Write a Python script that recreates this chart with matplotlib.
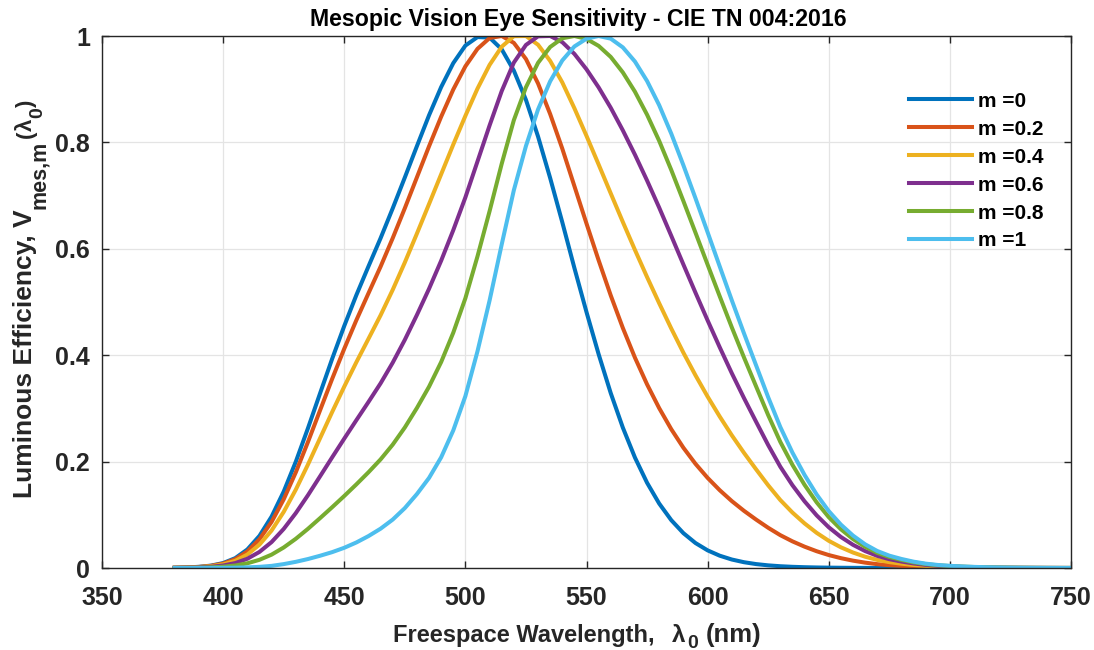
import matplotlib
matplotlib.use("Agg")
import matplotlib.pyplot as plt
import numpy as np

# Wavelength grid (nm)
wavelength = np.arange(380, 755, 5)

# m = 0 : scotopic luminous efficiency V'(lambda)
v_m00 = [0.000589, 0.001108, 0.002209, 0.00453, 0.00929, 0.01852, 0.03484, 0.0604,
         0.0966, 0.1436, 0.1998, 0.2625, 0.3281, 0.3931, 0.455, 0.513, 0.567, 0.620,
         0.676, 0.734, 0.793, 0.851, 0.904, 0.949, 0.982, 0.998, 0.997, 0.975, 0.935,
         0.880, 0.811, 0.733, 0.650, 0.564, 0.481, 0.402, 0.3288, 0.2639, 0.2076,
         0.1602, 0.1212, 0.0899, 0.0655, 0.0469, 0.03315, 0.02312, 0.01593, 0.01088,
         0.00737, 0.00497, 0.003335, 0.002235, 0.001497, 0.001005, 0.000677, 0.000459,
         0.000313, 0.000215, 0.000148, 0.000103, 0.0000715, 0.0000501, 0.0000353,
         0.000025, 0.0000178, 0.0000127, 0.0000091, 0.0000066, 0.0000048, 0.0000035,
         0.0000025, 0.0000019, 0.0000014, 0.000001, 0.0000008]

# m = 0.2
v_m02 = [0.000531, 0.000997, 0.00199, 0.00407, 0.00833, 0.01658, 0.03118, 0.05408,
         0.0866, 0.12904, 0.17986, 0.23665, 0.29622, 0.35541, 0.41215, 0.46583, 0.51641,
         0.56652, 0.61999, 0.67625, 0.73446, 0.79264, 0.84826, 0.89941, 0.94297, 0.97586,
         0.9962, 1.0, 0.9871, 0.95676, 0.91079, 0.85331, 0.78834, 0.71787, 0.64747,
         0.5785, 0.51244, 0.45121, 0.39536, 0.34518, 0.30051, 0.26082, 0.22602, 0.19574,
         0.16937, 0.14623, 0.1257, 0.10751, 0.09105, 0.07561, 0.06174, 0.05011, 0.04014,
         0.03154, 0.02433, 0.01851, 0.01381, 0.01008, 0.00723, 0.00524, 0.00383, 0.00269,
         0.00185, 0.00129, 0.000926, 0.000661, 0.000472, 0.000335, 0.000236, 0.000167,
         0.000117, 0.0000818, 0.0000564, 0.0000391, 0.0000273]

# m = 0.4
v_m04 = [0.000437, 0.000817, 0.00162, 0.00332, 0.00678, 0.01345, 0.0253, 0.0439,
         0.07046, 0.10538, 0.14731, 0.19429, 0.24377, 0.29313, 0.34094, 0.38684, 0.43085,
         0.47505, 0.52288, 0.57428, 0.62866, 0.68415, 0.74009, 0.79597, 0.84987, 0.90111,
         0.94569, 0.97986, 0.99964, 1.0, 0.98355, 0.95319, 0.9128, 0.86421, 0.81222,
         0.75854, 0.70422, 0.65039, 0.59784, 0.54688, 0.49771, 0.45008, 0.4047, 0.36212,
         0.32212, 0.28462, 0.24933, 0.2165, 0.18552, 0.15543, 0.12777, 0.10427, 0.08387,
         0.06611, 0.05111, 0.03894, 0.02909, 0.02125, 0.01525, 0.01105, 0.0081, 0.00568,
         0.00391, 0.00273, 0.00195, 0.0014, 0.000995, 0.000707, 0.000498, 0.000352,
         0.000248, 0.000172, 0.000118, 0.0000814, 0.0000568]

# m = 0.6
v_m06 = [0.000307, 0.000572, 0.00113, 0.00231, 0.0047, 0.00925, 0.01741, 0.03024,
         0.04874, 0.07341, 0.10317, 0.13669, 0.17224, 0.20796, 0.2432, 0.27788, 0.31208,
         0.34715, 0.38592, 0.42888, 0.47573, 0.52485, 0.57761, 0.63503, 0.69659, 0.76425,
         0.83196, 0.89647, 0.95, 0.98316, 0.9994, 1.0, 0.98848, 0.96636, 0.93738,
         0.90345, 0.86512, 0.82261, 0.77691, 0.72832, 0.67745, 0.62432, 0.57048, 0.51739,
         0.46533, 0.41483, 0.36595, 0.31952, 0.27496, 0.23107, 0.1904, 0.15567, 0.1254,
         0.09894, 0.07656, 0.05836, 0.04361, 0.03187, 0.02287, 0.01658, 0.01215, 0.00852,
         0.00587, 0.00409, 0.00293, 0.00209, 0.00149, 0.00106, 0.000748, 0.000529,
         0.000371, 0.000257, 0.000178, 0.000123, 0.0000855]

# m = 0.8
v_m08 = [0.000166, 0.000304, 0.0006, 0.0012, 0.00243, 0.0047, 0.00885, 0.01541,
         0.02511, 0.03853, 0.0549, 0.07356, 0.09368, 0.11424, 0.13535, 0.15721, 0.17995,
         0.20416, 0.23188, 0.2641, 0.30082, 0.34076, 0.3871, 0.44225, 0.50704, 0.58578,
         0.67091, 0.75982, 0.84168, 0.90362, 0.94959, 0.97932, 0.99573, 1.0, 0.99456,
         0.98145, 0.96066, 0.93157, 0.89529, 0.85208, 0.80289, 0.74802, 0.6897, 0.63017,
         0.57012, 0.51063, 0.45213, 0.39589, 0.34142, 0.28738, 0.23707, 0.19402, 0.1564,
         0.12347, 0.09557, 0.07287, 0.05447, 0.0398, 0.02857, 0.02071, 0.01518, 0.01064,
         0.00733, 0.00511, 0.00366, 0.00262, 0.00187, 0.00132, 0.000935, 0.00066,
         0.000464, 0.000322, 0.000222, 0.000153, 0.000107]

# m = 1 : photopic luminous efficiency V(lambda)
v_m10 = [0.000039, 0.000064, 0.00012, 0.000217, 0.000396, 0.00064, 0.00121, 0.00218,
         0.004, 0.0073, 0.0116, 0.01684, 0.023, 0.0298, 0.038, 0.048, 0.06, 0.0739,
         0.09098, 0.1126, 0.13902, 0.1693, 0.20802, 0.2586, 0.323, 0.4073, 0.503, 0.6082,
         0.71, 0.7932, 0.862, 0.91485, 0.954, 0.9803, 0.99495, 1.0, 0.995, 0.9786, 0.952,
         0.9154, 0.87, 0.8163, 0.757, 0.6949, 0.631, 0.5668, 0.503, 0.4412, 0.381, 0.321,
         0.265, 0.217, 0.175, 0.1382, 0.107, 0.0816, 0.061, 0.04458, 0.032, 0.0232, 0.017,
         0.01192, 0.00821, 0.005723, 0.004102, 0.002929, 0.002091, 0.001484, 0.001047,
         0.00074, 0.00052, 0.000361, 0.000249, 0.000172, 0.00012]

series_labels = ["m =0", "m =0.2", "m =0.4", "m =0.6", "m =0.8", "m =1"]
series = [v_m00, v_m02, v_m04, v_m06, v_m08, v_m10]
colors = ["#0072BD", "#D95319", "#EDB120", "#7E2F8E", "#77AC30", "#4DBEEE"]

x_ticks = [350, 400, 450, 500, 550, 600, 650, 700, 750]
y_ticks = [0, 0.2, 0.4, 0.6, 0.8, 1]
y_tick_labels = ["0", "0.2", "0.4", "0.6", "0.8", "1"]

title_text = "Mesopic Vision Eye Sensitivity - CIE TN 004:2016"
# label pieces: (text, font size, baseline drop px, gap before px)
xlabel_parts = [("Freespace Wavelength,", 17, 0, 0), ("\u03bb", 17.5, 0, 17),
                ("0", 14, 6, 2), ("(nm)", 18.5, 0, 8)]
ylabel_parts = [("Luminous Efficiency, V", 19, 0, 0), ("mes,m", 15.5, 13, 0),
                ("(", 16, 0, 3), ("\u03bb", 16, 0, 0), ("0", 14, 10, 0),
                (")", 16, 0, 0)]

plt.rcParams["font.family"] = ["Liberation Sans", "DejaVu Sans"]
plt.rcParams["font.weight"] = "bold"

text_color = "#262626"
W, H = 1094, 650

fig = plt.figure(figsize=(W / 100, H / 100), dpi=100)
ax = fig.add_axes([102 / W, 1 - 568 / H, 969 / W, 532 / H])

for vals, lab, col in zip(series, series_labels, colors):
    ax.plot(wavelength, vals, color=col, lw=2.9, label=lab)

ax.set_xlim(350, 750)
ax.set_ylim(0, 1)
ax.set_xticks(x_ticks)
ax.set_yticks(y_ticks)
ax.set_yticklabels(y_tick_labels)
ax.grid(True, color="#e4e4e4", lw=0.9)
ax.set_axisbelow(True)
ax.tick_params(direction="in", length=5, width=1, colors=text_color,
               labelsize=18, top=True, right=True)
ax.tick_params(axis="x", pad=13)
ax.tick_params(axis="y", pad=8.5)
for t in ax.get_xticklabels() + ax.get_yticklabels():
    t.set_fontweight("bold")
for sp in ax.spines.values():
    sp.set_color(text_color)
    sp.set_linewidth(1)

fig.text(578 / W, 1 - 26 / H, title_text, ha="center", va="baseline",
         fontsize=16.7, fontweight="bold", color="black")

renderer = fig.canvas.get_renderer()

# x label: pieces laid left to right, subscripts dropped below the baseline
x_cur, base = 393.0, 642.0
for s, fs, drop, gap in xlabel_parts:
    x_cur += gap
    t = fig.text(x_cur / W, 1 - (base + drop) / H, s, ha="left", va="baseline",
                 fontsize=fs, fontweight="bold", color=text_color)
    x_cur = t.get_window_extent(renderer).x1

# y label: rotated pieces laid bottom to top, subscripts shifted to the right
y_cur, base_x = H - 498.0, 32.0
for s, fs, drop, gap in ylabel_parts:
    y_cur += gap
    t = fig.text((base_x + drop) / W, y_cur / H, s, rotation=90,
                 rotation_mode="anchor", ha="left", va="baseline",
                 fontsize=fs, fontweight="bold", color=text_color)
    y_cur = t.get_window_extent(renderer).y1

leg = ax.legend(loc="upper left", bbox_to_anchor=(0.8246, 0.911), frameon=False,
                fontsize=15, handlelength=3.0, handletextpad=0.3,
                labelspacing=0.43, borderaxespad=0)
for t in leg.get_texts():
    t.set_fontweight("bold")
    t.set_color("black")

fig.savefig("out.png", dpi=100)
